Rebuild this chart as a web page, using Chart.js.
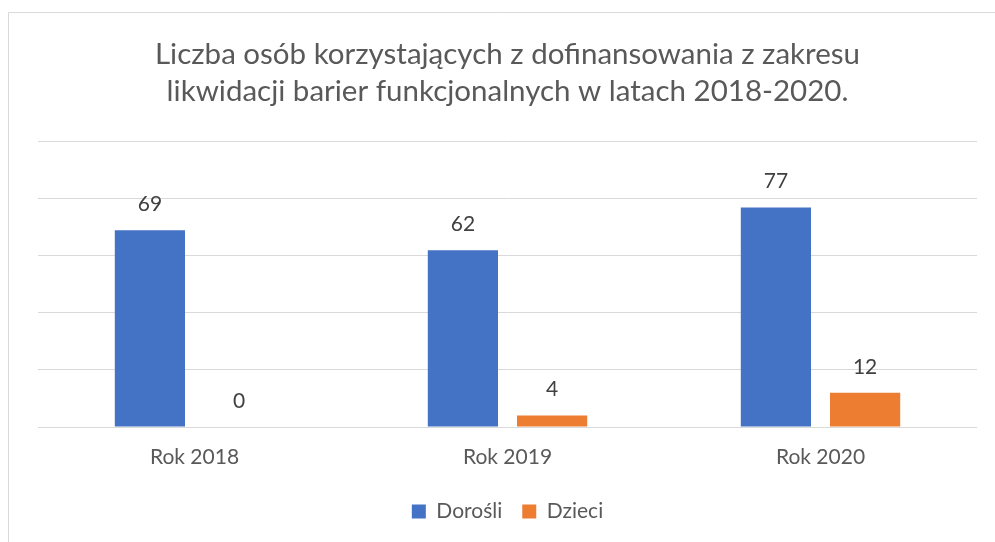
<!DOCTYPE html>
<html>
<head>
<meta charset="utf-8">
<script src="https://cdn.jsdelivr.net/npm/chart.js@4.4.1/dist/chart.umd.min.js"></script>
<style>
  html, body { margin: 0; padding: 0; background: #fff; }
  #wrap { width: 995px; height: 542px; }
</style>
</head>
<body>
<div id="wrap"><canvas id="chart" width="995" height="542"></canvas></div>
<script>
// dane
const categories = ['Rok 2018', 'Rok 2019', 'Rok 2020'];
const dorosli = [69, 62, 77];
const dzieci = [0, 4, 12];
const seriesNames = ['Dorośli', 'Dzieci'];
const titleLines = [
    'Liczba osób korzystających z dofinansowania z zakresu',
    'likwidacji barier funkcjonalnych w latach 2018-2020.'
];

const FONT = 'Lato, Carlito, "Liberation Sans", sans-serif';
const GRID = '#d9d9d9';
const TEXT = '#595959';

// ramka wykresu (lewa i górna krawędź)
const framePlugin = {
    id: 'frame',
    beforeDraw(chart) {
        const ctx = chart.ctx;
        ctx.save();
        ctx.strokeStyle = GRID;
        ctx.lineWidth = 1;
        ctx.beginPath();
        ctx.moveTo(8.5, chart.height);
        ctx.lineTo(8.5, 12.5);
        ctx.lineTo(chart.width, 12.5);
        ctx.stroke();
        ctx.restore();
    }
};

// etykiety wartości nad słupkami
const valueLabels = {
    id: 'valueLabels',
    afterDatasetsDraw(chart) {
        const ctx = chart.ctx;
        ctx.save();
        ctx.font = '21px ' + FONT;
        ctx.fillStyle = '#404040';
        ctx.textAlign = 'center';
        ctx.textBaseline = 'middle';
        chart.data.datasets.forEach((ds, i) => {
            const meta = chart.getDatasetMeta(i);
            meta.data.forEach((bar, j) => {
                ctx.fillText(String(ds.data[j]), bar.x, bar.y - 26);
            });
        });
        ctx.restore();
    }
};

new Chart(document.getElementById('chart'), {
    type: 'bar',
    data: {
        labels: categories,
        datasets: [
            {
                label: seriesNames[0],
                data: dorosli,
                backgroundColor: '#4472c4'
            },
            {
                label: seriesNames[1],
                data: dzieci,
                backgroundColor: '#ed7d31'
            }
        ]
    },
    options: {
        responsive: false,
        animation: false,
        layout: {
            padding: { top: 36, left: 38, right: 18, bottom: 10 }
        },
        datasets: {
            bar: {
                categoryPercentage: 0.57,
                barPercentage: 0.787
            }
        },
        plugins: {
            tooltip: { enabled: false },
            title: {
                display: true,
                text: titleLines,
                color: TEXT,
                font: { family: FONT, size: 29.5, weight: 'normal', lineHeight: 1.254 },
                padding: { top: 0, bottom: 32 }
            },
            legend: {
                position: 'bottom',
                labels: {
                    color: TEXT,
                    font: { family: FONT, size: 21 },
                    boxWidth: 14,
                    boxHeight: 14,
                    padding: 20
                }
            }
        },
        scales: {
            x: {
                grid: { display: false, drawTicks: false },
                border: { display: false },
                ticks: { color: TEXT, font: { family: FONT, size: 21 }, padding: 18 },
                afterFit(scale) { scale.height = 54; }
            },
            y: {
                min: 0,
                max: 100,
                ticks: { display: false, stepSize: 20 },
                grid: { color: GRID, lineWidth: 1, drawTicks: false },
                border: { display: false },
                afterFit(scale) { scale.width = 0; }
            }
        }
    },
    plugins: [framePlugin, valueLabels]
});
</script>
</body>
</html>
